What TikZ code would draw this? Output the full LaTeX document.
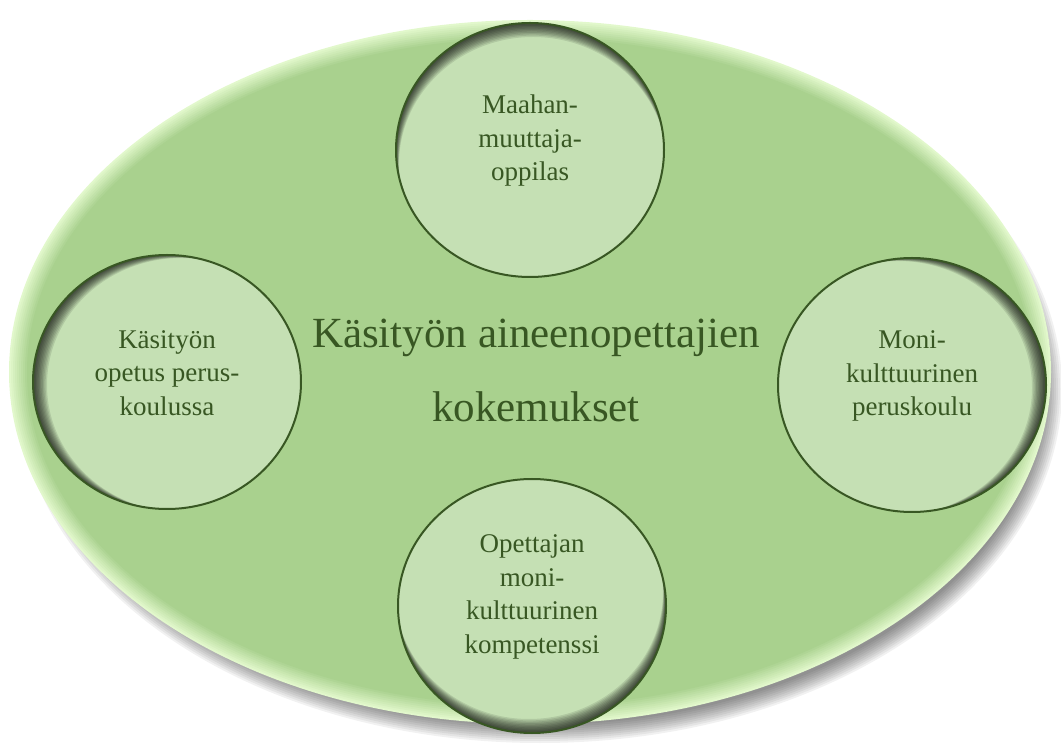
\documentclass[tikz,border=0pt]{standalone}
\usepackage{fontspec}
\setmainfont{Liberation Serif}
\usetikzlibrary{shapes.geometric}

\definecolor{rimgreen}{HTML}{E2F8CC}
\definecolor{maingreen}{HTML}{A9D18E}
\definecolor{circlegreen}{HTML}{C5E0B4}
\definecolor{darkgreen}{HTML}{385723}

\tikzset{
  bubble/.style={ellipse, fill=circlegreen, minimum width=268pt, minimum height=254pt, inner sep=0pt},
  bubtext/.style={text=darkgreen, align=center, font=\rmfamily\fontsize{27}{33.5}\selectfont},
  maintext/.style={text=darkgreen, align=center, font=\rmfamily\fontsize{43}{74}\selectfont}
}

% inner shadow of a bubble: node name, inward shift
\newcommand{\innershadow}[3]{
  \begin{scope}
    \clip (#1.center) ellipse [x radius=134, y radius=127];
    \foreach \k in {1,...,10}
      \fill[black, opacity=0.1, even odd rule] (#1.center) ellipse [x radius=134, y radius=127]
        ([shift={(\k*#2,\k*#3)}]#1.center) ellipse [x radius=134, y radius=127];
  \end{scope}
  \draw[darkgreen, line width=2pt] (#1.center) ellipse [x radius=134, y radius=127];
}

\begin{document}
\begin{tikzpicture}[x=1pt, y=1pt]
  \useasboundingbox (0,0) rectangle (1061,745);

  % shadow and rim of the big ellipse
  \foreach \i in {0,...,9}
    \fill[black, opacity=0.055] (540,356) ellipse [x radius=522-2*\i, y radius=354-2*\i];
  \foreach \i in {0,...,9} {
    \pgfmathsetmacro\mixv{\i*11.1}
    \fill[maingreen!\mixv!rimgreen] (530,373) ellipse [x radius=521-2*\i, y radius=352-2*\i];
  }

  \node[maintext] (core) at (536,375) {Käsityön aineenopettajien\\kokemukset};

  \node[bubble] (top) at (530,595) {};
  \innershadow{top}{0.3}{-1.4}
  \node[bubble] (left) at (167,363) {};
  \innershadow{left}{1.4}{-0.3}
  \node[bubble] (right) at (912,360) {};
  \innershadow{right}{-1.4}{-0.3}
  \node[bubble] (bottom) at (532,139) {};
  \innershadow{bottom}{-0.3}{1.4}

  \node[bubtext] (toptext) at ([yshift=9]top.center) {Maahan-\\muuttaja-\\oppilas};
  \node[bubtext] (lefttext) at ([yshift=9]left.center) {Käsityön\\opetus perus-\\koulussa};
  \node[bubtext] (righttext) at ([yshift=9]right.center) {Moni-\\kulttuurinen\\peruskoulu};
  \node[bubtext] (bottomtext) at ([yshift=9]bottom.center) {Opettajan\\moni-\\kulttuurinen\\kompetenssi};
\end{tikzpicture}
\end{document}
